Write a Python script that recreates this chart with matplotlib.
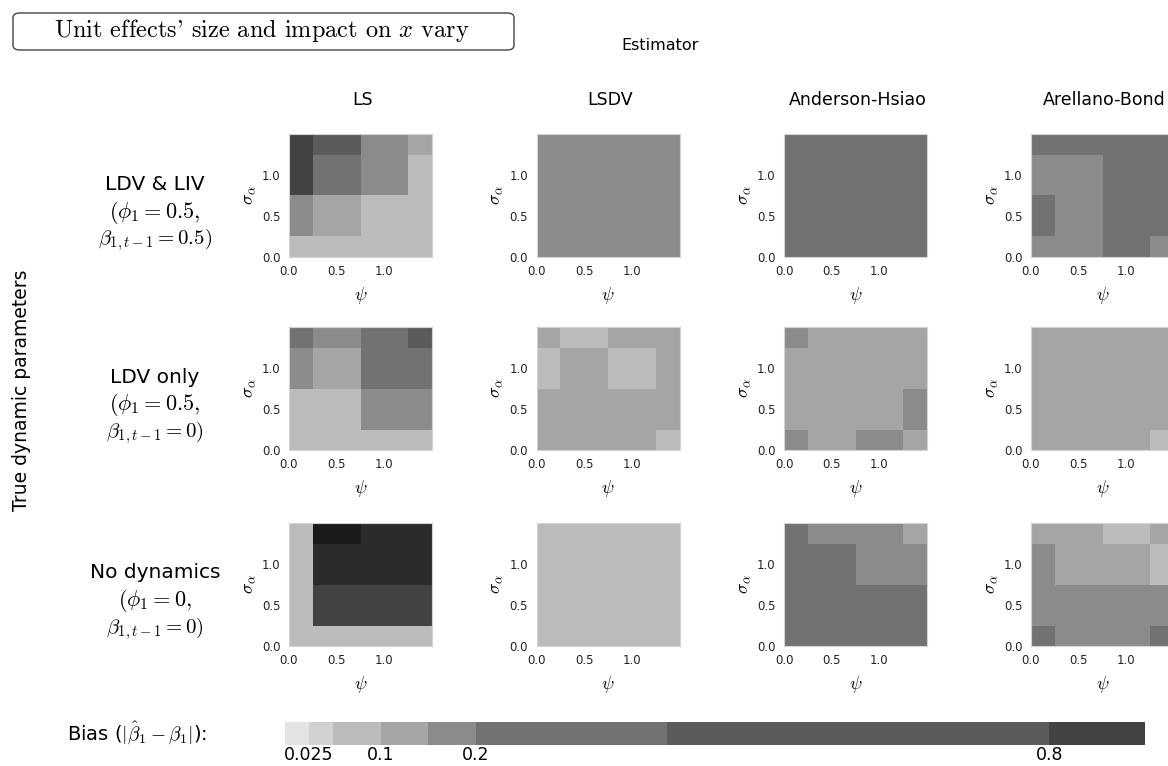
import matplotlib
matplotlib.use("Agg")
import matplotlib.pyplot as plt
import numpy as np
from matplotlib.colors import BoundaryNorm, ListedColormap
from matplotlib.cm import ScalarMappable
from matplotlib.patches import FancyBboxPatch

plt.rcParams["font.family"] = "DejaVu Sans"
plt.rcParams["mathtext.fontset"] = "cm"

# grid of unit-effect settings: psi along x, sigma_alpha along y
PSI = [0.0, 0.5, 1.0, 1.5]
SIGMA_ALPHA = [0.0, 0.5, 1.0, 1.5]

ESTIMATORS = ["LS", "LSDV", "Anderson-Hsiao", "Arellano-Bond"]
SCENARIOS = [
    ("LDV & LIV", r"$(\phi_1 = 0.5,$", r"$\beta_{1,t-1} = 0.5)$"),
    ("LDV only", r"$(\phi_1 = 0.5,$", r"$\beta_{1,t-1} = 0)$"),
    ("No dynamics", r"$(\phi_1 = 0,$", r"$\beta_{1,t-1} = 0)$"),
]

# absolute bias |beta1_hat - beta1|; rows are sigma_alpha = 1.5, 1.0, 0.5, 0.0 (top to bottom),
# columns are psi = 0, 0.5, 1.0, 1.5
BIAS_LS_BOTH = [
    [0.85, 0.60, 0.175, 0.125],
    [0.85, 0.30, 0.175, 0.075],
    [0.175, 0.125, 0.075, 0.075],
    [0.075, 0.075, 0.075, 0.075],
]
BIAS_LSDV_BOTH = [
    [0.175, 0.175, 0.175, 0.175],
    [0.175, 0.175, 0.175, 0.175],
    [0.175, 0.175, 0.175, 0.175],
    [0.175, 0.175, 0.175, 0.175],
]
BIAS_AH_BOTH = [
    [0.30, 0.30, 0.30, 0.30],
    [0.30, 0.30, 0.30, 0.30],
    [0.30, 0.30, 0.30, 0.30],
    [0.30, 0.30, 0.30, 0.30],
]
BIAS_AB_BOTH = [
    [0.30, 0.30, 0.30, 0.30],
    [0.175, 0.175, 0.30, 0.30],
    [0.30, 0.175, 0.30, 0.30],
    [0.175, 0.175, 0.30, 0.175],
]
BIAS_LS_LDV = [
    [0.30, 0.175, 0.30, 0.60],
    [0.175, 0.125, 0.30, 0.30],
    [0.075, 0.075, 0.175, 0.175],
    [0.075, 0.075, 0.075, 0.075],
]
BIAS_LSDV_LDV = [
    [0.125, 0.075, 0.125, 0.125],
    [0.075, 0.125, 0.075, 0.125],
    [0.125, 0.125, 0.125, 0.125],
    [0.125, 0.125, 0.125, 0.075],
]
BIAS_AH_LDV = [
    [0.175, 0.125, 0.125, 0.125],
    [0.125, 0.125, 0.125, 0.125],
    [0.125, 0.125, 0.125, 0.175],
    [0.175, 0.125, 0.175, 0.125],
]
BIAS_AB_LDV = [
    [0.125, 0.125, 0.125, 0.125],
    [0.125, 0.125, 0.125, 0.125],
    [0.125, 0.125, 0.125, 0.125],
    [0.125, 0.125, 0.125, 0.075],
]
BIAS_LS_NONE = [
    [0.075, 1.10, 0.95, 0.95],
    [0.075, 0.95, 0.95, 0.95],
    [0.075, 0.85, 0.85, 0.85],
    [0.075, 0.075, 0.075, 0.075],
]
BIAS_LSDV_NONE = [
    [0.075, 0.075, 0.075, 0.075],
    [0.075, 0.075, 0.075, 0.075],
    [0.075, 0.075, 0.075, 0.075],
    [0.075, 0.075, 0.075, 0.075],
]
BIAS_AH_NONE = [
    [0.30, 0.175, 0.175, 0.125],
    [0.30, 0.30, 0.175, 0.175],
    [0.30, 0.30, 0.30, 0.30],
    [0.30, 0.30, 0.30, 0.30],
]
BIAS_AB_NONE = [
    [0.125, 0.125, 0.075, 0.125],
    [0.175, 0.125, 0.125, 0.075],
    [0.175, 0.175, 0.175, 0.175],
    [0.30, 0.175, 0.175, 0.30],
]

PANELS = [
    [BIAS_LS_BOTH, BIAS_LSDV_BOTH, BIAS_AH_BOTH, BIAS_AB_BOTH],
    [BIAS_LS_LDV, BIAS_LSDV_LDV, BIAS_AH_LDV, BIAS_AB_LDV],
    [BIAS_LS_NONE, BIAS_LSDV_NONE, BIAS_AH_NONE, BIAS_AB_NONE],
]

# bias classes and grey shades
BIAS_BREAKS = [0, 0.025, 0.05, 0.1, 0.15, 0.2, 0.4, 0.8, 0.9, 1.0, 1.2]
GREYS = ["#e3e3e3", "#d1d1d1", "#bcbcbc", "#a5a5a5", "#8b8b8b",
         "#727272", "#5b5b5b", "#424242", "#2b2b2b", "#1b1b1b"]
LEGEND_TICKS = [0.025, 0.1, 0.2, 0.8]
N_LEGEND = 8  # classes shown in the key (0 to 0.9)

W, H = 1168, 766
cmap = ListedColormap(GREYS)
norm = BoundaryNorm(BIAS_BREAKS, cmap.N)


def rect(left, top, w, h):
    return [left / W, 1 - (top + h) / H, w / W, h / H]


def ftext(x, y, s, **kw):
    return fig.text(x / W, 1 - y / H, s, **kw)


fig = plt.figure(figsize=(W / 100, H / 100), dpi=100)

# cell edges: half-width cells at the ends of the 0..1.5 range
psi_edges = np.concatenate([[PSI[0]], (np.array(PSI[:-1]) + np.array(PSI[1:])) / 2, [PSI[-1]]])
sig_edges = np.concatenate([[SIGMA_ALPHA[0]],
                            (np.array(SIGMA_ALPHA[:-1]) + np.array(SIGMA_ALPHA[1:])) / 2,
                            [SIGMA_ALPHA[-1]]])

col_left = [289, 536.5, 784, 1031]
row_top = [134, 327, 523]
pw, ph = 143, 123

for i, row in enumerate(PANELS):
    for j, grid in enumerate(row):
        ax = fig.add_axes(rect(col_left[j], row_top[i], pw, ph))
        z = np.flipud(np.array(grid))
        ax.pcolormesh(psi_edges, sig_edges, z, cmap=cmap, norm=norm)
        ax.set_xlim(0, 1.5)
        ax.set_ylim(0, 1.5)
        ax.set_xticks([0, 0.5, 1.0])
        ax.set_yticks([0, 0.5, 1.0])
        ax.set_xticklabels(["0.0", "0.5", "1.0"])
        ax.set_yticklabels(["0.0", "0.5", "1.0"])
        ax.tick_params(length=0, labelsize=8.5, pad=6, colors="#222222")
        for sp in ax.spines.values():
            sp.set_color("#d4d4d4")
            sp.set_linewidth(0.8)
        ax.set_xlabel(r"$\psi$", fontsize=13, labelpad=5)
        ax.set_ylabel(r"$\sigma_\alpha$", fontsize=13, labelpad=3)

# column headers
for j, name in enumerate(ESTIMATORS):
    ftext(col_left[j] + pw / 2 + 2, 100, name, fontsize=12.5, ha="center", va="center")
ftext(660, 45, "Estimator", fontsize=11.5, ha="center", va="center")

# row headers
for i, (title, line1, line2) in enumerate(SCENARIOS):
    yc = row_top[i] + 78
    ftext(155, yc - 28, title, fontsize=14.5, ha="center", va="center")
    ftext(155, yc, line1, fontsize=16, ha="center", va="center")
    ftext(155, yc + 28, line2, fontsize=15, ha="center", va="center")
ftext(22, 390, "True dynamic parameters", fontsize=13.5, rotation=90,
      ha="center", va="center")

# boxed caption
box = FancyBboxPatch((13 / W, 1 - 50 / H), 501 / W, 37 / H,
                     boxstyle="round,pad=0,rounding_size=0.006",
                     transform=fig.transFigure, facecolor="white",
                     edgecolor="#444444", linewidth=1.0)
fig.patches.append(box)
ftext(262, 31, r"$\text{Unit effects' size and impact on }x\text{ vary}$",
      fontsize=17.5, ha="center", va="center")

# bias key
cax = fig.add_axes(rect(285, 722, 860, 23))
key_cmap = ListedColormap(GREYS[:N_LEGEND])
key_norm = BoundaryNorm(BIAS_BREAKS[:N_LEGEND + 1], N_LEGEND)
cb = fig.colorbar(ScalarMappable(norm=key_norm, cmap=key_cmap), cax=cax,
                  orientation="horizontal", spacing="proportional",
                  ticks=LEGEND_TICKS)
cb.outline.set_visible(False)
cb.minorticks_off()
cb.ax.set_xticklabels([f"{t:g}" for t in LEGEND_TICKS])
cb.ax.tick_params(which="both", length=0, labelsize=12.5, pad=1)
ftext(67, 733, r"Bias ($|\hat{\beta}_1 - \beta_1|$):", fontsize=14, ha="left", va="center")

fig.savefig("out.png", dpi=100)
